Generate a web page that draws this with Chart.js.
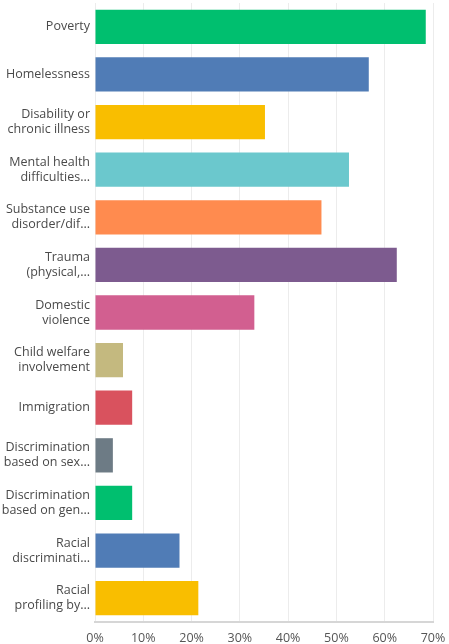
<!DOCTYPE html>
<html>
<head>
<meta charset="utf-8">
<script src="https://cdn.jsdelivr.net/npm/chart.js@4.4.1/dist/chart.umd.min.js"></script>
<style>
  html, body { margin: 0; padding: 0; background: #fff; }
  #wrap { position: relative; width: 449px; height: 644px; }
</style>
</head>
<body>
<div id="wrap"><canvas id="myChart"></canvas></div>
<script>
const labels = [
  "Poverty",
  "Homelessness",
  ["Disability or", "chronic illness"],
  ["Mental health", "difficulties..."],
  ["Substance use", "disorder/dif..."],
  ["Trauma", "(physical,..."],
  ["Domestic", "violence"],
  ["Child welfare", "involvement"],
  "Immigration",
  ["Discrimination", "based on sex..."],
  ["Discrimination", "based on gen..."],
  ["Racial", "discriminati..."],
  ["Racial", "profiling by..."]
];
const percents = [68.5, 56.7, 35.2, 52.6, 46.9, 62.5, 33.0, 5.8, 7.7, 3.7, 7.7, 17.5, 21.4];
const colors = ["#00bf6f", "#507cb6", "#f9be00", "#6bc8cd", "#ff8b4f", "#7d5b8f", "#d25f90",
  "#c4b97f", "#d9525e", "#6d7b85", "#00bf6f", "#507cb6", "#f9be00"];
const xTicks = [0, 10, 20, 30, 40, 50, 60, 70];

const ctx = document.getElementById("myChart");
new Chart(ctx, {
  type: 'bar',
  data: {
    labels: labels,
    datasets: [
      {
        data: percents,
        backgroundColor: colors,
        borderWidth: 0,
        barPercentage: 0.72,
        categoryPercentage: 1
      }
    ]
  },
  options: {
    indexAxis: 'y',
    responsive: true,
    maintainAspectRatio: false,
    animation: false,
    layout: {
      padding: { top: 3, right: 16, bottom: 0, left: 0 }
    },
    plugins: {
      legend: { display: false },
      tooltip: { enabled: false }
    },
    scales: {
      x: {
        min: 0,
        max: 70,
        afterBuildTicks: (axis) => {
          axis.ticks = xTicks.map(v => ({ value: v }));
        },
        afterFit: (axis) => {
          axis.height = 22;
          axis.paddingLeft = 0;
          axis.paddingRight = 0;
        },
        ticks: {
          callback: (v) => v + '%',
          color: '#555',
          font: { family: 'Open Sans', size: 12.5 },
          padding: 9,
          maxRotation: 0
        },
        grid: {
          color: '#ececec',
          drawTicks: false
        },
        border: { color: '#d6d6d6', width: 2 }
      },
      y: {
        afterFit: (axis) => {
          axis.width = 95;
          axis.paddingTop = 0;
          axis.paddingBottom = 0;
        },
        ticks: {
          color: '#4a4a4a',
          font: { family: 'Open Sans', size: 12.5, lineHeight: 1.2 },
          padding: 5,
          autoSkip: false
        },
        grid: { display: false, drawTicks: false },
        border: { display: false }
      }
    }
  }
});
</script>
</body>
</html>
